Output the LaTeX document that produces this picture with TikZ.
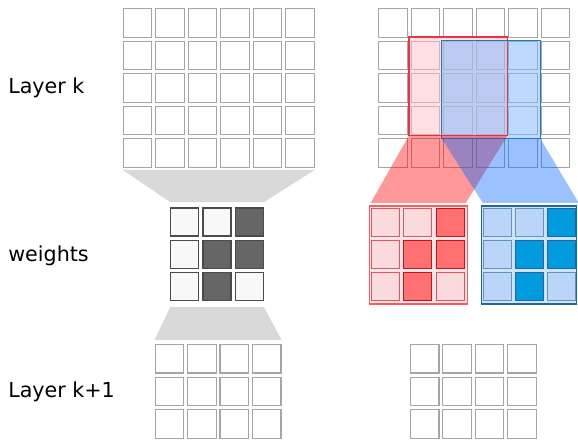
\documentclass[tikz,border=0pt]{standalone}
\usepackage{fontspec}
\setmainfont{DejaVu Sans}
\usetikzlibrary{positioning,calc}
\definecolor{gridgray}{RGB}{165,165,165}
\definecolor{trapgray}{RGB}{217,217,217}
\definecolor{wlight}{RGB}{248,248,248}
\definecolor{wdark}{RGB}{102,102,102}
\definecolor{wline}{RGB}{75,75,75}
\definecolor{boxred}{RGB}{240,50,60}
\definecolor{boxpink}{RGB}{255,192,203}
\definecolor{boxteal}{RGB}{35,125,160}
\definecolor{boxblue}{RGB}{123,183,255}
\definecolor{rlight}{RGB}{250,218,221}
\definecolor{rdark}{RGB}{255,112,112}
\definecolor{rline}{RGB}{195,20,35}
\definecolor{rframe}{RGB}{255,90,90}
\definecolor{blight}{RGB}{187,213,248}
\definecolor{bdark}{RGB}{0,154,222}
\definecolor{bline}{RGB}{30,105,150}
\definecolor{trapblue}{RGB}{0,102,255}

\begin{document}
\begin{tikzpicture}[x=0.75pt, y=-0.75pt, font=\fontsize{15.5}{18}\selectfont,
    cell/.style={rectangle, draw=gridgray, line width=0.9pt, fill=white, inner sep=0pt, minimum size=21.4pt},
    wcell/.style={rectangle, draw=wline, line width=0.9pt, inner sep=0pt, minimum size=21pt},
    kcell/.style={rectangle, line width=0.8pt, inner sep=0pt, minimum size=21pt}]
  \useasboundingbox (0,0) rectangle (578,439);

  % row labels
  \node[anchor=base west, inner sep=0pt] (lk) at (8,93.3) {Layer k};
  \node[anchor=base west, inner sep=0pt] (lw) at (8,261) {weights};
  \node[anchor=base west, inner sep=0pt] (lk1) at (8,397.3) {Layer k+1};

  % layer k, two copies
  \foreach \i in {0,...,5}
    \foreach \j in {0,...,4} {
      \node[cell] (a-\i-\j) at ({137.5+32.5*\i},{23+32.5*\j}) {};
      \node[cell] (b-\i-\j) at ({393.1+32.5*\i},{23+32.5*\j}) {};
    }

  % layer k+1, two copies
  \foreach \i in {0,...,3}
    \foreach \j in {0,...,2} {
      \node[cell] (c-\i-\j) at ({169.5+32.4*\i},{358.8+32.6*\j}) {};
      \node[cell] (d-\i-\j) at ({424.7+32.4*\i},{358.8+32.6*\j}) {};
    }

  % weights
  \foreach \i/\j/\c in {0/0/wlight,1/0/wlight,2/0/wdark,0/1/wlight,1/1/wdark,2/1/wdark,0/2/wlight,1/2/wdark,2/2/wlight}
    \node[wcell, fill=\c] (w-\i-\j) at ({184.7+32.3*\i},{222+32.3*\j}) {};

  % funnels on the left
  \fill[trapgray] ([yshift=-1.5pt]a-0-4.south west) -- ([yshift=-1.5pt]a-5-4.south east)
    -- ([yshift=4pt]w-2-0.north east) -- ([yshift=4pt]w-0-0.north west) -- cycle;
  \fill[trapgray] ([yshift=-4.5pt]w-0-2.south west) -- ([yshift=-4.5pt]w-2-2.south east)
    -- ([yshift=3pt]c-3-0.north east) -- ([yshift=3pt]c-0-0.north west) -- cycle;

  % receptive fields (fills first, frames on top)
  \node[rectangle, fill=boxpink, fill opacity=0.5, minimum width=73.5pt, minimum height=73.5pt] (rbox) at (458.2,86.3) {};
  \node[rectangle, fill=boxblue, fill opacity=0.5, minimum width=73.5pt, minimum height=73.2pt] (bbox) at (491,89.5) {};
  \draw[boxred, line width=1pt] (rbox.south west) rectangle (rbox.north east);
  \draw[boxteal, line width=1pt] (bbox.south west) rectangle (bbox.north east);

  % kernel frames
  \node[rectangle, draw=rframe, line width=0.9pt, fill=rlight!70, minimum width=73.4pt, minimum height=73.4pt] (rker) at (418.3,255) {};
  \node[rectangle, draw=bline, line width=0.9pt, fill=blight!70, minimum width=71.5pt, minimum height=73.4pt] (bker) at (529,255) {};

  % projections
  \fill[red, opacity=0.4] (rbox.south west) -- (rbox.south east)
    -- ([xshift=-1.5pt, yshift=2pt]rker.north east) -- ([xshift=1.5pt, yshift=2pt]rker.north west) -- cycle;
  \fill[trapblue, opacity=0.4] (bbox.south west) -- (bbox.south east)
    -- ([xshift=1pt, yshift=2pt]bker.north east) -- ([xshift=1.5pt, yshift=2pt]bker.north west) -- cycle;

  % kernel cells
  \foreach \i/\j/\s in {0/0/0,1/0/0,2/0/1,0/1/0,1/1/1,2/1/1,0/2/0,1/2/1,2/2/0} {
    \ifnum\s=1
      \node[kcell, draw=rline, fill=rdark] (r-\i-\j) at ({385.5+32.3*\i},{222.2+32.3*\j}) {};
      \node[kcell, draw=bline, fill=bdark] (k-\i-\j) at ({497.2+32.3*\i},{222.2+32.3*\j}) {};
    \else
      \node[kcell, draw=rline!70, fill=rlight] (r-\i-\j) at ({385.5+32.3*\i},{222.2+32.3*\j}) {};
      \node[kcell, draw=bline!70, fill=blight] (k-\i-\j) at ({497.2+32.3*\i},{222.2+32.3*\j}) {};
    \fi
  }
\end{tikzpicture}
\end{document}
